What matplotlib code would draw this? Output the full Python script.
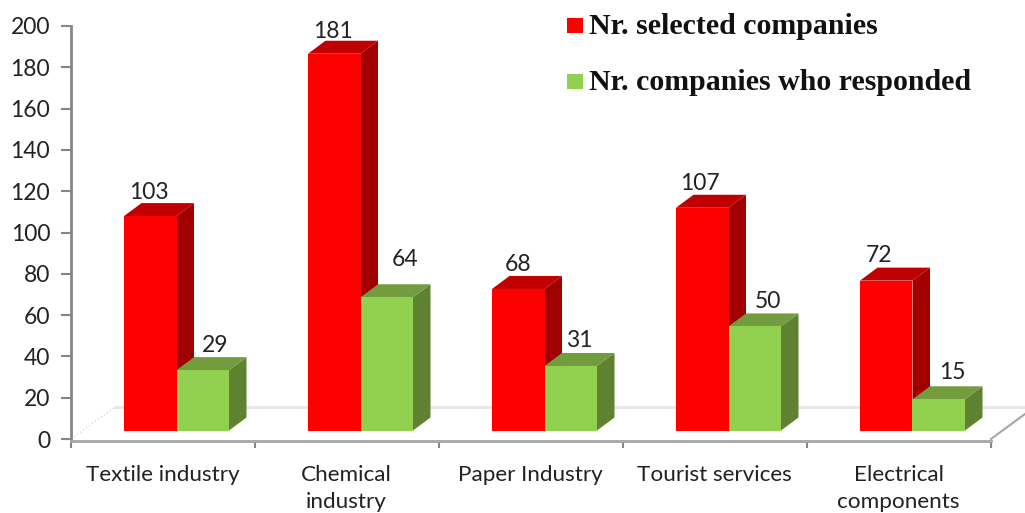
import matplotlib
matplotlib.use("Agg")
import matplotlib.pyplot as plt
from matplotlib.patches import Polygon, Rectangle

# -----------------------------
# DATA
# -----------------------------
categories = ["Textile industry", "Chemical\nindustry", "Paper Industry",
              "Tourist services", "Electrical\ncomponents"]
selected = [103, 181, 68, 107, 72]
responded = [29, 64, 31, 50, 15]
legend_labels = ["Nr. selected companies", "Nr. companies who responded"]
yticks = list(range(0, 201, 20))

# -----------------------------
# LAYOUT (pixels of the 1025x513 picture)
# -----------------------------
W, H = 1025, 513
ax_left, ax_right, ax_top, ax_bottom = 71, 991, 26, 439

fig = plt.figure(figsize=(W / 100, H / 100), dpi=100)
ax = fig.add_axes([ax_left / W, 1 - ax_bottom / H,
                   (ax_right - ax_left) / W, (ax_bottom - ax_top) / H])
ax.set_xlim(0, len(categories))
ax.set_ylim(0, 200)

px_x = len(categories) / (ax_right - ax_left)   # data units per pixel
px_y = 200 / (ax_bottom - ax_top)

bar_w = 52.5 * px_x
depth_x = 17.5 * px_x
depth_y = 13 * px_y
base = 8.5 * px_y
stretch = 1.008   # front face scale of the 3D box


def box(x, value, front, top, side):
    y1 = base + value * stretch
    ax.add_patch(Polygon([(x + bar_w, base), (x + bar_w + depth_x, base + depth_y),
                          (x + bar_w + depth_x, y1 + depth_y), (x + bar_w, y1)],
                         fc=side, ec="none", zorder=3, clip_on=False))
    ax.add_patch(Polygon([(x, y1), (x + depth_x, y1 + depth_y),
                          (x + bar_w + depth_x, y1 + depth_y), (x + bar_w, y1)],
                         fc=top, ec="none", zorder=3, clip_on=False))
    ax.add_patch(Rectangle((x, base), bar_w, value * stretch,
                           fc=front, ec="none", zorder=4, clip_on=False))


# floor of the 3D chart
back_y = 32 * px_y
ax.plot([44 * px_x, 5 + 34 * px_x], [back_y, back_y], color="#e6e6e6", lw=2,
        zorder=1, clip_on=False)
ax.plot([0, 44 * px_x], [0, back_y], color="#d9d9d9", lw=1, ls=":", zorder=1, clip_on=False)
ax.plot([5, 5 + 34 * px_x], [0, 25 * px_y], color="#a6a6a6", lw=1.5, zorder=1, clip_on=False)

# label nudges in pixels (dx from bar centre, dy above front top)
sel_nudge = [(-1, 24), (-1, 22), (0, 24), (-2, 24), (-7, 25)]
resp_nudge = [(12, 25), (18, 38), (9, 25), (13, 25), (14, 27)]

for i in range(len(categories)):
    x_red = i + 53 * px_x
    x_green = x_red + bar_w
    box(x_red, selected[i], "#ff0000", "#c00000", "#a00000")
    box(x_green, responded[i], "#92d050", "#739c3f", "#5f8231")
    for x, v, (dx, dy) in ((x_red, selected[i], sel_nudge[i]),
                           (x_green, responded[i], resp_nudge[i])):
        ax.text(x + bar_w / 2 + dx * px_x, base + v * stretch + dy * px_y, str(v),
                ha="center", va="center", fontsize=16.5, family="Lato",
                color="#222222", zorder=5)

# -----------------------------
# AXES
# -----------------------------
for s in ["top", "right"]:
    ax.spines[s].set_visible(False)
ax.spines["left"].set_color("#868686")
ax.spines["left"].set_linewidth(2)
ax.spines["bottom"].set_color("#a6a6a6")
ax.spines["bottom"].set_linewidth(2)
ax.spines["bottom"].set_position(("outward", 1.5))

ax.set_yticks(yticks)
ax.set_yticklabels([str(t) for t in yticks], fontsize=16.5, family="Lato", color="#222222")
ax.tick_params(axis="y", length=7, width=1.5, color="#868686", pad=8)

ax.set_xticks(range(len(categories) + 1))
ax.set_xticklabels([])
ax.tick_params(axis="x", length=5, width=1.5, color="#868686")
for i, name in enumerate(categories):
    ax.annotate(name, (i + 0.5, 0), xytext=(-0.5, -26), textcoords="offset pixels",
                ha="center", va="top", fontsize=16.2, family="Lato", color="#222222",
                linespacing=1.45, annotation_clip=False)

# -----------------------------
# LEGEND
# -----------------------------
for (lx, ly), label, color in zip([(567, 25), (567, 81)], legend_labels, ["#ff0000", "#92d050"]):
    fig.patches.append(Rectangle((lx / W, 1 - (ly + 7.5) / H), 16 / W, 15 / H, fc=color, ec="none",
                                 transform=fig.transFigure))
    fig.text(589 / W, 1 - (ly + 1) / H, label, fontsize=21.5, fontweight="bold",
             family="Liberation Serif", color="#111111", va="center", ha="left")

fig.savefig("out.png", dpi=100)
